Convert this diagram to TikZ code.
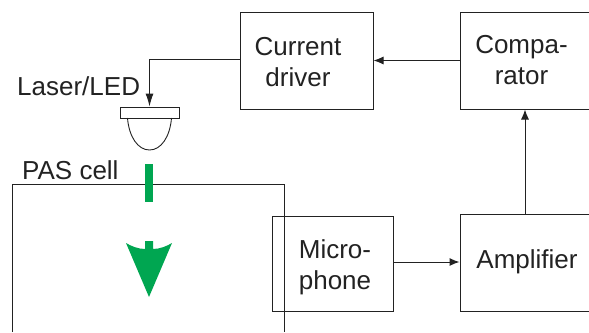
\documentclass[tikz,border=0pt]{standalone}
\usepackage{fontspec}
\setmainfont{Liberation Sans}
\usetikzlibrary{arrows.meta,positioning}
\definecolor{ink}{HTML}{222222}
\definecolor{beam}{HTML}{00A651}
\tikzset{
  blockbox/.style={draw=ink,line width=1pt,minimum width=#1,minimum height=97pt,inner sep=0pt},
  blocktext/.style={inner sep=0pt,text=ink,align=center,font=\fontsize{26}{31}\selectfont},
  plaintext/.style={anchor=base west,inner sep=0pt,text=ink,font=\fontsize{26}{30}\selectfont},
  link/.style={draw=ink,line width=1pt,-{Latex[length=10pt,width=8pt]}}
}
\begin{document}
\begin{tikzpicture}[x=1pt,y=-1pt]
\useasboundingbox (0,0) rectangle (589,332);
\node[blockbox=133pt] (driver) at (306.5,60.5) {};
\node[blockbox=130pt] (comparator) at (525,60.5) {};
\node[blockbox=130pt] (amplifier) at (525,262.5) {};
\node[blockbox=121pt,minimum height=95pt] (microphone) at (332.5,263.5) {};
\node[blocktext] (drivertext) at (298,62.5) {Current\\driver};
\node[blocktext] (comparatortext) at (521.5,60) {Compa-\\rator};
\node[blocktext] (amplifiertext) at (527,262) {Amplifier};
\node[blocktext] (microphonetext) at (335,267) {Micro-\\phone};
% PAS cell
\draw[ink,line width=1pt] (12,332)--(12,184)--(284,184)--(284,332);
\node[plaintext] (cell) at (22,179) {PAS cell};
% laser
\node[draw=ink,line width=.9pt,minimum width=59pt,minimum height=11pt,inner sep=0pt] (laser) at (149.5,112.5) {};
\draw[ink,line width=.9pt] (127.5,118) .. controls (129,137) and (138,150) .. (149.5,150) .. controls (161,150) and (170,137) .. (171.5,118);
\node[plaintext] (laserlabel) at (17,95) {Laser/LED};
% beam
\fill[beam] (145,164) rectangle (153,202);
\fill[beam] (145,241) -- (153,241) -- (153,249) .. controls (160,249) and (167,246) .. (172,243) -- (149,297) -- (126,243) .. controls (131,246) and (138,249) .. (145,249) -- cycle;
% links
\draw[link] (comparator.west) -- (driver.east);
\draw[link] (amplifier.north) -- (comparator.south);
\draw[link] ([yshift=1.5pt]microphone.east) -- ([yshift=1.5pt]amplifier.west |- microphone.east);
\draw[link,-{Latex[length=13pt,width=8pt]}] ([yshift=1.5pt]driver.west) -| (laser.north);
\end{tikzpicture}
\end{document}
